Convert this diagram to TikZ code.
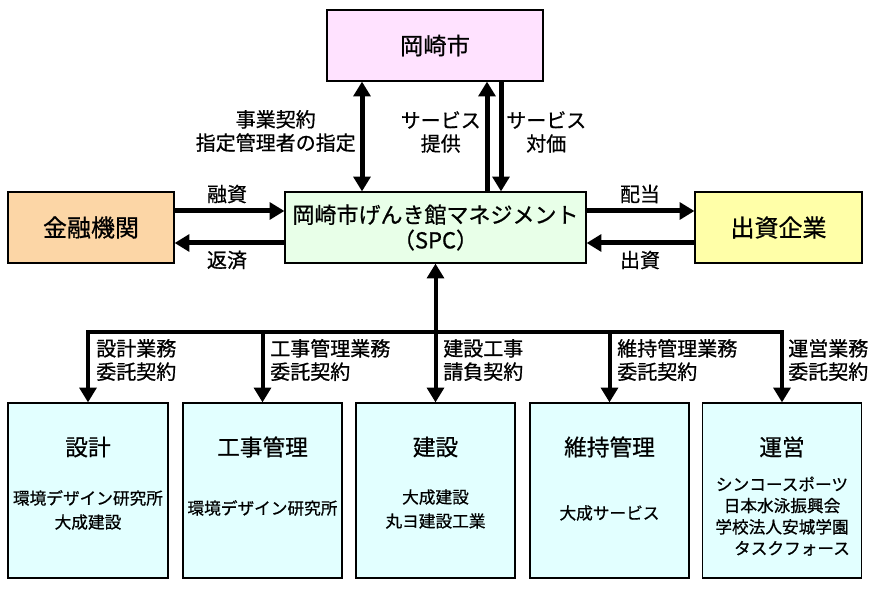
\documentclass[tikz,border=0pt]{standalone}
\usepackage{fontspec}
\setmainfont{Noto Sans CJK JP}[RawFeature={embolden=0.7}]
\usetikzlibrary{arrows.meta, positioning, calc}
\definecolor{cityPink}{RGB}{255,226,255}
\definecolor{spcGreen}{RGB}{232,255,232}
\definecolor{finOrange}{RGB}{252,214,166}
\definecolor{invYellow}{RGB}{255,255,168}
\definecolor{workCyan}{RGB}{226,255,255}
\tikzset{
  box/.style={draw=black, line width=0.9pt, inner sep=0pt, align=center},
  arr/.style={line width=3.75pt, -{Triangle[width=12.5pt,length=11pt]}},
  darr/.style={line width=3.75pt, {Triangle[width=12.5pt,length=11pt]}-{Triangle[width=12.5pt,length=11pt]}},
  barr/.style={line width=3pt, -{Triangle[width=12.5pt,length=11pt]}},
  lbl/.style={font=\fontsize{15}{17.5}\selectfont, inner sep=0pt},
  ttl/.style={font=\fontsize{17}{20}\selectfont, inner sep=0pt},
  sub/.style={font=\fontsize{12.5}{18}\selectfont, inner sep=0pt, align=center},
}

\begin{document}
\begin{tikzpicture}[x=0.75pt, y=-0.75pt]
  \useasboundingbox (0,0) rectangle (874,591);
  % upper boxes
  \node[box, fill=cityPink, minimum width=162pt, minimum height=53.25pt,
        font=\fontsize{17.5}{20}\selectfont] (city) at (435,45.5) {岡崎市};
  \node[box, fill=spcGreen, minimum width=225.75pt, minimum height=53.25pt,
        font=\fontsize{16.5}{19}\selectfont] (spc) at (435.5,227.5) {岡崎市げんき館マネジメント\\（SPC）};
  \node[box, fill=finOrange, minimum width=124.5pt, minimum height=53.25pt,
        font=\fontsize{18}{20}\selectfont] (fin) at (91,227.5) {金融機関};
  \node[box, fill=invYellow, minimum width=125.25pt, minimum height=53.25pt,
        font=\fontsize{18}{20}\selectfont] (inv) at (778.5,227.5) {出資企業};

  % city <-> spc
  \coordinate (pcontract) at ($(spc.north)+(-73.5,0)$);
  \coordinate (pservice) at ($(spc.north)+(51.5,0)$);
  \coordinate (ppay) at ($(spc.north)+(65.5,0)$);
  \draw[darr] (pcontract) -- (pcontract |- city.south);
  \draw[arr] (pservice) -- (pservice |- city.south);
  \draw[arr] (ppay |- city.south) -- (ppay);
  \node[lbl, anchor=east, align=center] (lcontract) at (356,131) {事業契約\\指定管理者の指定};
  \node[lbl, anchor=east, align=center] (lservice) at (481,132) {サービス\\提供};
  \node[lbl, anchor=west, align=center] (lpay) at (506,132) {サービス\\対価};

  % finance and investors
  \coordinate (ploan) at ($(fin.east)+(0,-16.5)$);
  \coordinate (prepay) at ($(spc.west)+(0,15.5)$);
  \coordinate (pdiv) at ($(spc.east)+(0,-16.5)$);
  \coordinate (pcap) at ($(inv.west)+(0,15.5)$);
  \draw[arr] (ploan) -- (ploan -| spc.west);
  \draw[arr] (prepay) -- (prepay -| fin.east);
  \draw[arr] (pdiv) -- (pdiv -| inv.west);
  \draw[arr] (pcap) -- (pcap -| spc.east);
  \node[lbl] (lloan) at (227,194) {融資};
  \node[lbl] (lrepay) at (227,260) {返済};
  \node[lbl] (ldiv) at (640,194) {配当};
  \node[lbl] (lcap) at (640,260) {出資};

  % lower boxes
  \node[box, fill=workCyan, minimum width=120pt, minimum height=131.25pt] (w1) at (88,490.5) {};
  \node[box, fill=workCyan, minimum width=119.25pt, minimum height=131.25pt] (w2) at (262.5,490.5) {};
  \node[box, fill=workCyan, minimum width=119.25pt, minimum height=131.25pt] (w3) at (435.5,490.5) {};
  \node[box, fill=workCyan, minimum width=119.25pt, minimum height=131.25pt] (w4) at (609.5,490.5) {};
  \node[box, fill=workCyan, minimum width=119.25pt, minimum height=131.25pt] (w5) at (782,490.5) {};
  \node[ttl] (t1) at (88,447) {設計};
  \node[ttl] (t2) at (262.5,447) {工事管理};
  \node[ttl] (t3) at (435.5,447) {建設};
  \node[ttl] (t4) at (609.5,447) {維持管理};
  \node[ttl] (t5) at (782,447) {運営};
  \node[sub] (s1) at (88,510) {環境デザイン研究所\\大成建設};
  \node[sub] (s2) at (262.5,508) {環境デザイン研究所};
  \node[sub] (s3) at (435.5,509) {大成建設\\丸ヨ建設工業};
  \node[sub] (s4) at (609.5,513) {大成サービス};
  \node[sub, font=\fontsize{12.5}{16}\selectfont] (s5) at (782,516)
       {シンコースポーツ\\日本水泳振興会\\学校法人安城学園\\\hspace{1.2em}タスクフォース};

  % contract bus
  \coordinate (bus) at (435.5,332);
  \draw[barr] (bus) -- (spc.south);
  \draw[line width=3pt, {Triangle[width=12.5pt,length=11pt]}-{Triangle[width=12.5pt,length=11pt]}]
       (w1.north) -- (w1.north |- bus) -- (w5.north |- bus) -- (w5.north);
  \draw[barr] (w2.north |- bus) -- (w2.north);
  \draw[barr] (w3.north |- bus) -- (w3.north);
  \draw[barr] (w4.north |- bus) -- (w4.north);
  \node[lbl, anchor=west, align=left] (c1) at (96,360) {設計業務\\委託契約};
  \node[lbl, anchor=west, align=left] (c2) at (270,360) {工事管理業務\\委託契約};
  \node[lbl, anchor=west, align=left] (c3) at (443,360) {建設工事\\請負契約};
  \node[lbl, anchor=west, align=left] (c4) at (617,360) {維持管理業務\\委託契約};
  \node[lbl, anchor=west, align=left] (c5) at (788,360) {運営業務\\委託契約};
\end{tikzpicture}
\end{document}
